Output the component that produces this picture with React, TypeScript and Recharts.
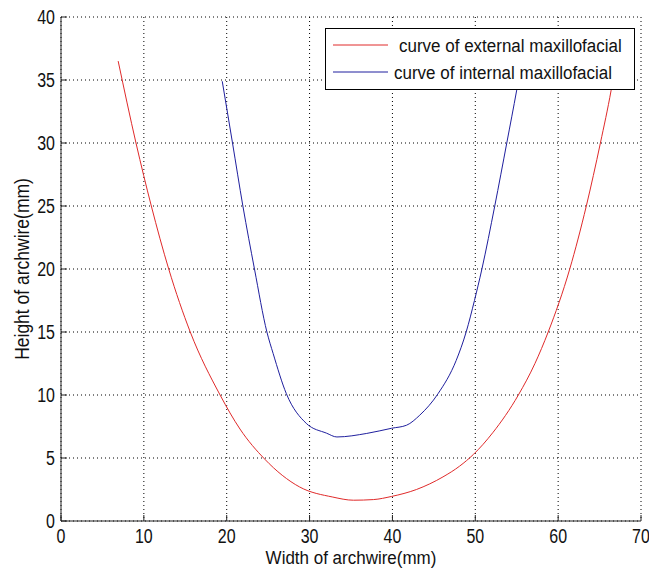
import { CartesianGrid, Legend, Line, LineChart, XAxis, YAxis } from "recharts";

const WIDTH_TICKS = [0, 10, 20, 30, 40, 50, 60, 70];
const HEIGHT_TICKS = [0, 5, 10, 15, 20, 25, 30, 35, 40];

// curve of external maxillofacial (red)
const EXTERNAL_X = [6.9, 9.05, 10.9, 13.0, 15.6, 19.2, 21.6, 24.6, 28.8, 32.8, 35.3, 37.7, 39.9, 42.9, 46.1, 48.1, 49.8, 52.1, 55.2, 57.2, 58.8, 61.4, 63.4, 65.1, 66.4, 67.0];
const EXTERNAL_Y = [36.5, 30, 25, 20, 15, 10, 7.3, 4.9, 2.7, 1.9, 1.65, 1.7, 1.95, 2.5, 3.5, 4.35, 5.3, 7.0, 10, 12.5, 15, 20, 25, 30, 34.2, 36.5];

// curve of internal maxillofacial (blue)
const INTERNAL_X = [19.46, 20.7, 21.95, 23.35, 24.85, 25.6, 27.2, 29.6, 32.05, 33.3, 36.9, 39.9, 41.7, 43.3, 45.5, 47.7, 48.9, 49.9, 50.8, 52.35, 53.8, 55.0, 55.3];
const INTERNAL_Y = [34.9, 30, 25, 20, 15, 13.3, 10.1, 7.75, 6.97, 6.67, 6.95, 7.36, 7.6, 8.4, 10.1, 12.75, 15, 17.5, 20, 25, 30, 34.2, 35.3];

const RED = "#e02a2a";
const BLUE = "#1f1f9e";
const INK = "#111";
const FONT = "'Liberation Sans', Arial, sans-serif";

const external = EXTERNAL_X.map((x, i) => ({ x, y: EXTERNAL_Y[i] }));
const internal = INTERNAL_X.map((x, i) => ({ x, y: INTERNAL_Y[i] }));

// ticks point inward like the original figure, so the tick mark is drawn here
function XTick({ x, y, payload }: any) {
  return (
    <g>
      <line x1={x} x2={x} y1={y - 7} y2={y - 13} stroke="#222" />
      <g transform={`translate(${x},${y}) scale(1,1.3)`}>
        <text textAnchor="middle" dy="0.716em" fontSize={16} fill={INK} fontFamily={FONT}>
          {payload.value}
        </text>
      </g>
    </g>
  );
}

function YTick({ x, y, payload }: any) {
  return (
    <g>
      <line x1={x + 6} x2={x + 12} y1={y} y2={y} stroke="#222" />
      <g transform={`translate(${x},${y}) scale(1,1.3)`}>
        <text textAnchor="end" dy="0.358em" fontSize={16} fill={INK} fontFamily={FONT}>
          {payload.value}
        </text>
      </g>
    </g>
  );
}

function XTitle({ viewBox }: any) {
  const cx = viewBox.x + viewBox.width / 2;
  return (
    <g transform={`translate(${cx},${viewBox.y + 36}) scale(1,1.12)`}>
      <text textAnchor="middle" dy="0.36em" fontSize={17} fill={INK} fontFamily={FONT}>
        Width of archwire(mm)
      </text>
    </g>
  );
}

function YTitle({ viewBox }: any) {
  const cy = viewBox.y + viewBox.height / 2;
  return (
    <g transform={`translate(22,${cy}) rotate(-90) scale(1,1.12)`}>
      <text textAnchor="middle" dy="0.36em" fontSize={17.5} fill={INK} fontFamily={FONT}>
        Height of archwire(mm)
      </text>
    </g>
  );
}

function LegendBox() {
  return (
    <svg width={310} height={62} style={{ display: "block" }}>
      <rect x={0.5} y={0.5} width={309} height={61} fill="#fff" stroke="#000" />
      <line x1={8} x2={63} y1={17} y2={17} stroke={RED} />
      <line x1={8} x2={63} y1={44} y2={44} stroke={BLUE} />
      <g transform="translate(74,17) scale(1,1.12)">
        <text dy="0.36em" fontSize={17} fill={INK} fontFamily={FONT}>
          curve of external maxillofacial
        </text>
      </g>
      <g transform="translate(69,44) scale(1,1.12)">
        <text dy="0.36em" fontSize={17} fill={INK} fontFamily={FONT}>
          curve of internal maxillofacial
        </text>
      </g>
    </svg>
  );
}

export default function App() {
  return (
    <div style={{ position: "absolute", left: 0, top: 0, width: 649, height: 574, background: "#fff" }}>
      <LineChart width={649} height={574} margin={{ top: 17, right: 8, bottom: 0, left: 0 }}>
        <CartesianGrid stroke="#000" strokeDasharray="1 3" />
        <XAxis
          type="number"
          dataKey="x"
          domain={[0, 70]}
          ticks={WIDTH_TICKS}
          height={53}
          stroke="#222"
          tickLine={false}
          tickSize={0}
          tickMargin={7}
          tick={<XTick />}
          label={{ content: XTitle }}
          allowDataOverflow
        />
        <YAxis
          type="number"
          dataKey="y"
          domain={[0, 40]}
          ticks={HEIGHT_TICKS}
          width={61}
          stroke="#222"
          tickLine={false}
          tickSize={0}
          tickMargin={6}
          tick={<YTick />}
          label={{ content: YTitle }}
          allowDataOverflow
        />
        <Line
          data={external}
          dataKey="y"
          type="monotoneX"
          stroke={RED}
          strokeWidth={1}
          dot={false}
          isAnimationActive={false}
        />
        <Line
          data={internal}
          dataKey="y"
          type="monotoneX"
          stroke={BLUE}
          strokeWidth={1}
          dot={false}
          isAnimationActive={false}
        />
        <Legend
          verticalAlign="middle"
          align="center"
          content={<LegendBox />}
          wrapperStyle={{ left: 325, top: 28, width: 310, height: 62 }}
        />
      </LineChart>
    </div>
  );
}
